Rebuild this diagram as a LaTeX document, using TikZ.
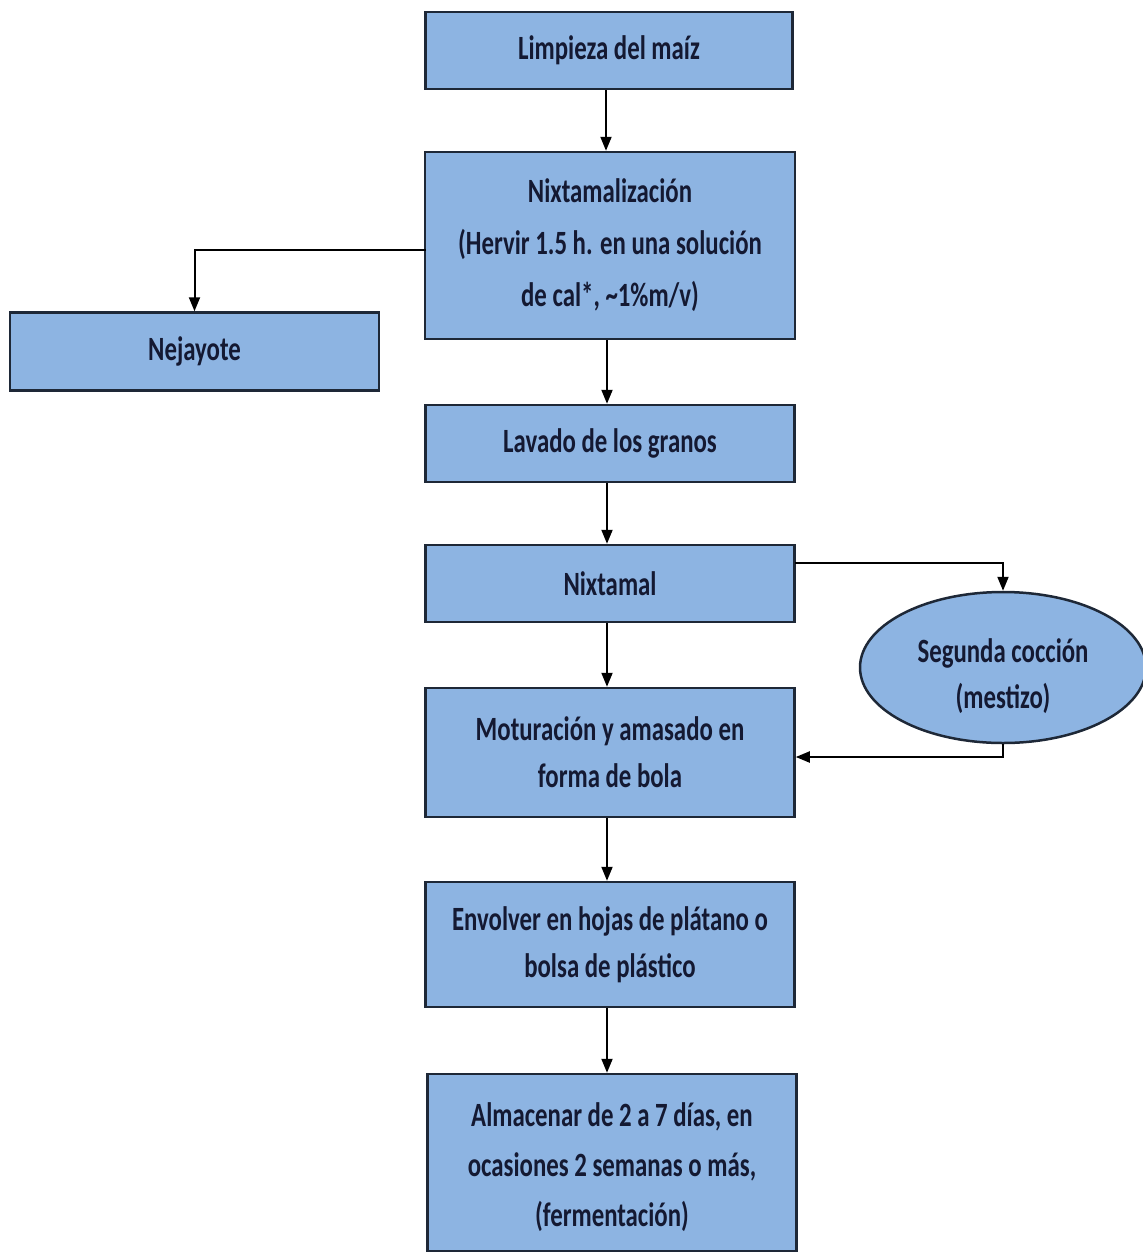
\documentclass[tikz,border=0pt]{standalone}
\usepackage{fontspec}
\setmainfont{Carlito}[FakeStretch=0.73]
\usetikzlibrary{shapes.geometric,arrows.meta}
\definecolor{boxfill}{RGB}{141,180,226}
\definecolor{boxline}{RGB}{30,40,55}
\definecolor{txt}{RGB}{20,25,50}
\begin{document}
\begin{tikzpicture}[x=1pt,y=-1pt,
  box/.style={draw=boxline,fill=boxfill,line width=2.5pt,inner sep=0pt,align=center,
    font=\fontsize{34}{47}\selectfont\bfseries,text=txt},
  arr/.style={-{Triangle[width=11pt,length=14pt]},line width=2pt,black}]
\useasboundingbox (0,0) rectangle (1143,1253);
\node[box,minimum width=367,minimum height=77] (a) at (609,50.5) {Limpieza del maíz};
\node[box,minimum width=370,minimum height=187,font=\fontsize{34}{52}\selectfont\bfseries] (b) at (610,245.5)
  {Nixtamalización\\(Hervir 1.5 h. en una solución\\de cal*, \textasciitilde1\%m/v)};
\node[box,minimum width=369,minimum height=78] (n) at (194.5,351.5) {Nejayote};
\node[box,minimum width=369,minimum height=77] (c) at (610,443.5) {Lavado de los granos};
\node[box,minimum width=369,minimum height=77] (d) at (610,583.5) {Nixtamal};
\node[box,ellipse,minimum width=286,minimum height=151,font=\fontsize{34}{46}\selectfont\bfseries] (s) at (1003,667.5)
  {\raisebox{-9pt}[\height][\depth]{\begin{tabular}{@{}c@{}}Segunda cocción\\(mestizo)\end{tabular}}};
\node[box,minimum width=369,minimum height=129] (e) at (610,752.5) {Moturación y amasado en\\forma de bola};
\node[box,minimum width=369,minimum height=125] (f) at (610,944.5) {Envolver en hojas de plátano o\\bolsa de plástico};
\node[box,minimum width=369,minimum height=177,font=\fontsize{34}{50}\selectfont\bfseries] (g) at (612,1162.5)
  {\raisebox{-4pt}[\height][\depth]{\begin{tabular}{@{}c@{}}Almacenar de 2 a 7 días, en\\ocasiones 2 semanas o más,\\(fermentación)\end{tabular}}};
\coordinate (bl) at (426,250);
\coordinate (dr) at (795,563);
\draw[arr] ([xshift=-3pt]a.south) -- ([xshift=-3pt]a.south |- b.north);
\draw[arr] ([xshift=-3pt]b.south) -- ([xshift=-3pt]b.south |- c.north);
\draw[arr] ([xshift=-3pt]c.south) -- ([xshift=-3pt]c.south |- d.north);
\draw[arr] ([xshift=-3pt]d.south) -- ([xshift=-3pt]d.south |- e.north);
\draw[arr] ([xshift=-3pt]e.south) -- ([xshift=-3pt]e.south |- f.north);
\draw[arr] ([xshift=-3pt]f.south) -- ([xshift=-3pt]f.south |- g.north);
\draw[arr] (bl) -| (n.north);
\draw[arr] (dr) -| (s.north);
\draw[arr] (s.south) |- (e.east |- 0,757);
\end{tikzpicture}
\end{document}
